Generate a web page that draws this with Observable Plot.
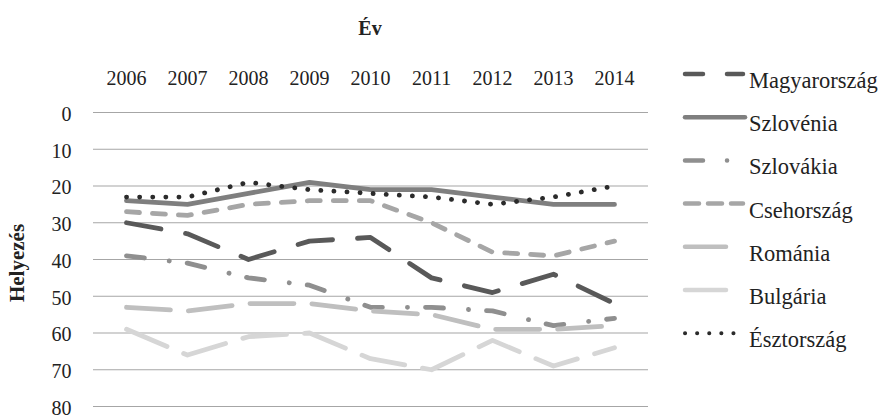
<!DOCTYPE html>
<html>
<head>
<meta charset="utf-8">
<script src="https://cdn.jsdelivr.net/npm/d3@7"></script>
<script src="https://cdn.jsdelivr.net/npm/@observablehq/plot@0.6"></script>
<style>
  html, body { margin: 0; padding: 0; background: #fff; }
  #chart { width: 882px; height: 419px; }
</style>
</head>
<body>
<div id="chart"></div>
<script>
const years = ["2006", "2007", "2008", "2009", "2010", "2011", "2012", "2013", "2014"];
const yTicks = [0, 10, 20, 30, 40, 50, 60, 70, 80];
const seriesNames = ["Magyarország", "Szlovénia", "Szlovákia", "Csehország", "Románia", "Bulgária", "Észtország"];
const magyarorszag = [30, 33, 40, 35, 34, 45, 49, 44, 52];
const szlovenia    = [24, 25, 22, 19, 21, 21, 23, 25, 25];
const szlovakia    = [39, 41, 45, 47, 53, 53, 54, 58, 56];
const csehorszag   = [27, 28, 25, 24, 24, 30, 38, 39, 35];
const romania      = [53, 54, 52, 52, 54, 55, 59, 59, 58];
const bulgaria     = [59, 66, 61, 60, 67, 70, 62, 69, 64];
const esztorszag   = [23, 23, 19, 21, 22, 23, 25, 23, 20];
const seriesValues = [magyarorszag, szlovenia, szlovakia, csehorszag, romania, bulgaria, esztorszag];

const styles = [
  {stroke: "#595959", dash: "35,25",          legendDash: "18,24",          len: 58},
  {stroke: "#7f7f7f", dash: null,             legendDash: null,             len: 60},
  {stroke: "#8f8f8f", dash: "18,25,0.1,18",   legendDash: "18,24,0.1,40",   len: 42.5},
  {stroke: "#a6a6a6", dash: "13,13",          legendDash: "14,9",           len: 58},
  {stroke: "#bfbfbf", dash: "44,18",          legendDash: null,             len: 41},
  {stroke: "#d6d6d6", dash: "44,18",          legendDash: null,             len: 41},
  {stroke: "#2b2b2b", dash: "0.1,13",         legendDash: "0.1,12",         len: 60, dotted: true}
];

const rows = seriesNames.map((name, i) => years.map((yr, j) => ({series: name, year: yr, rank: seriesValues[i][j]})));

const font = "'Liberation Serif', 'DejaVu Serif', serif";

const lineMarks = rows.map((data, i) => Plot.line(data, {
  x: "year", y: "rank",
  stroke: styles[i].stroke,
  strokeWidth: 4.8,
  strokeDasharray: styles[i].dash || undefined,
  strokeLinecap: "round",
  strokeLinejoin: "round"
}));

const chart = Plot.plot({
  width: 882,
  height: 419,
  marginLeft: 91,
  marginRight: 234,
  marginTop: 112,
  marginBottom: 13,
  style: {fontFamily: font, fontSize: "20px", color: "#222", background: "#fff"},
  x: {type: "point", domain: years, padding: 0.5},
  y: {domain: [0, 80], reverse: true},
  marks: [
    Plot.ruleY(yTicks, {stroke: "#a6a6a6", strokeWidth: 1.2, insetLeft: 2}),
    Plot.axisX({anchor: "top", tickSize: 0, tickPadding: 28, label: null, fontSize: 20}),
    Plot.axisY({ticks: yTicks, tickSize: 0, tickPadding: 20, label: null, fontSize: 20, dy: 2}),
    ...lineMarks
  ]
});

document.getElementById("chart").appendChild(chart);

const svg = d3.select(chart);
function styleText(sel, size, weight) {
  return sel.style("font-family", font).style("font-size", size + "px")
    .style("font-weight", weight).style("fill", "#222");
}
// Title
styleText(svg.append("text")
  .attr("x", 370).attr("y", 35)
  .attr("text-anchor", "middle").style("text-anchor", "middle"), 20, "bold")
  .text("Év");
// Y label
styleText(svg.append("text")
  .attr("transform", "translate(24,263) rotate(-90)")
  .attr("text-anchor", "middle").style("text-anchor", "middle"), 21, "bold")
  .text("Helyezés");

// Legend
const lg = svg.append("g");
seriesNames.forEach((name, i) => {
  const y = 74 + i * 43.2;
  const st = styles[i];
  lg.append("line")
    .attr("x1", 685).attr("x2", 685 + st.len)
    .attr("y1", y).attr("y2", y)
    .attr("stroke", st.stroke)
    .attr("stroke-width", st.dotted ? 4 : 4.5)
    .attr("stroke-linecap", "round")
    .attr("stroke-dasharray", st.legendDash);
  styleText(lg.append("text")
    .attr("x", 749).attr("y", y + 14)
    .attr("text-anchor", "start").style("text-anchor", "start"), 22.5, "normal")
    .text(name);
});
</script>
</body>
</html>
